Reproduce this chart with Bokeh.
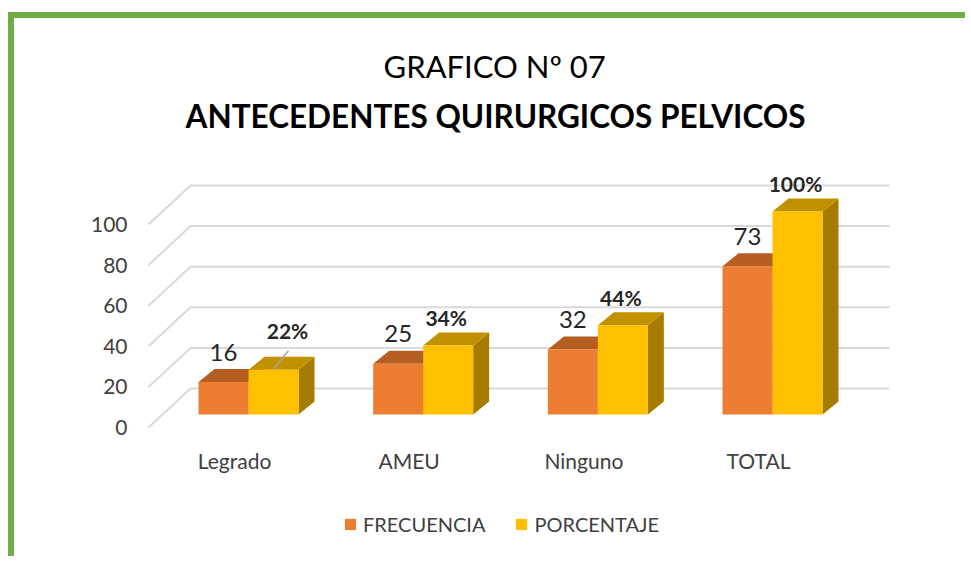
from bokeh.plotting import figure
from bokeh.models import (Range1d, LinearAxis, FixedTicker, Title, Legend, LegendItem,
                          ColumnDataSource)
from bokeh.core.properties import value
from bokeh.embed import file_html
from bokeh.resources import INLINE

# ---------------- data ----------------
categories = ["Legrado", "AMEU", "Ninguno", "TOTAL"]
frecuencia = [16, 25, 32, 73]
porcentaje = [22, 34, 44, 100]
porcentaje_labels = ["22%", "34%", "44%", "100%"]
y_ticks = [0, 20, 40, 60, 80, 100]
series_names = ["FRECUENCIA", "PORCENTAJE"]

# ---------------- layout constants (pixels) ----------------
W, H = 957, 544
OX, OY = 14, 18                    # page position of the canvas
FL, FR, FT, FB = 140, 960, 145, 556  # frame edges (page px)
PX_Y = 2.03                        # px per value unit
PX_X = 174.67                      # px per category
X0 = 248                           # page x of first bar-pair centre
Y0 = 414                           # page y of bar base
BAR_PX = 50
DEPTH_X, DEPTH_Y = 16, 13          # bar depth (px)
FRONT_DX, FRONT_DY = 14, 13        # front plane vs bar plane
BACK_DX, BACK_DY = 28, 26          # back wall vs bar plane
FLOOR_LEFT, WALL_RIGHT = 148, 889  # page x
CAT_LABEL_DY = 33                  # category labels below the front floor edge (px)

ORANGE, ORANGE_TOP = "#ED7D31", "#B65D21"
YELLOW, YELLOW_TOP, YELLOW_SIDE = "#FFC000", "#C29100", "#A57C00"
TEXT = "#404040"

def dx(px):
    return px / PX_X

def dy(px):
    return px / PX_Y

x_range = Range1d((FL - X0) / PX_X, (FR - X0) / PX_X)
y_range = Range1d((Y0 - FB) / PX_Y, (Y0 - FT) / PX_Y)

p = figure(width=W, height=H, x_range=x_range, y_range=y_range,
           output_backend="svg", toolbar_location=None,
           x_axis_location=None, y_axis_location=None,
           min_border_left=FL - OX, min_border_right=OX + W - FR,
           min_border_top=FT - OY, min_border_bottom=OY + H - FB)
p.styles = {"border-top": "6px solid #70AD47", "border-left": "6px solid #70AD47",
            "margin-top": "12px", "margin-left": "8px"}
p.xgrid.visible = False
p.ygrid.visible = False
p.outline_line_color = None
p.background_fill_color = "white"
p.border_fill_color = "white"

p.extra_y_ranges = {"front_y": Range1d((Y0 + FRONT_DY - FB) / PX_Y, (Y0 + FRONT_DY - FT) / PX_Y)}

# ---------------- 3D gridlines ----------------
gx0 = (FLOOR_LEFT - X0) / PX_X
gx1 = gx0 + dx(FRONT_DX + BACK_DX)
gx2 = (WALL_RIGHT - X0) / PX_X
grid_xs = [[gx0, gx1, gx2] for t in y_ticks]
grid_ys = [[t - dy(FRONT_DY), t + dy(BACK_DY), t + dy(BACK_DY)] for t in y_ticks]
p.multi_line(grid_xs, grid_ys, line_color="#d9d9d9", line_width=2)

# ---------------- bars ----------------
bw = dx(BAR_PX)
ddx, ddy = dx(DEPTH_X), dy(DEPTH_Y)

def faces(vals, s):
    lefts = [i - bw + s * bw for i in range(len(vals))]
    rights = [l + bw for l in lefts]
    tops_x = [[l, r, r + ddx, l + ddx] for l, r in zip(lefts, rights)]
    tops_y = [[v, v, v + ddy, v + ddy] for v in vals]
    side_x = [[r, r + ddx, r + ddx, r] for r in rights]
    side_y = [[0, ddy, v + ddy, v] for v in vals]
    return lefts, rights, tops_x, tops_y, side_x, side_y

renderers = []
for s, (vals, cf, ct, cs) in enumerate([(frecuencia, ORANGE, ORANGE_TOP, ORANGE_TOP),
                                        (porcentaje, YELLOW, YELLOW_TOP, YELLOW_SIDE)]):
    lefts, rights, tx, ty, sx, sy = faces(vals, s)
    p.patches(sx, sy, fill_color=cs, line_color=None)
    p.patches(tx, ty, fill_color=ct, line_color=None)
    src = ColumnDataSource(dict(left=lefts, right=rights, top=vals, bottom=[0] * len(vals)))
    r = p.quad(left="left", right="right", top="top", bottom="bottom", source=src,
               fill_color=cf, line_color=None)
    renderers.append(r)

# ---------------- data labels ----------------
fx = [i - bw / 2 for i in range(len(categories))]
p.text(x=fx, y=frecuencia, text=[str(v) for v in frecuencia], y_offset=-30,
       text_align="center", text_baseline="middle", text_font=value("Lato"),
       text_font_size="24px", text_color="#262626")

px_ = [i + bw / 2 for i in range(len(categories))]
lab_dx = [14, -2, -2, -2]
lab_dy = [-39, -28, -28, -28]
p.text(x=px_, y=porcentaje, text=porcentaje_labels, x_offset=lab_dx, y_offset=lab_dy,
       text_align="center", text_baseline="middle", text_font=value("Lato"),
       text_font_style="bold", text_font_size="21px", text_color="#262626")
# leader line for the displaced first label
p.segment(x0=[px_[0]], y0=[porcentaje[0] + dy(1)], x1=[px_[0] + dx(15)],
          y1=[porcentaje[0] + dy(19)], line_color="#a6a6a6", line_width=1.5)

# ---------------- category labels (front floor edge) ----------------
cat_x = [i - dx(FRONT_DX) for i in range(len(categories))]
p.text(x=cat_x, y=[-dy(FRONT_DY)] * len(categories), text=categories, y_offset=CAT_LABEL_DY,
       text_align="center", text_baseline="middle", text_font=value("Lato"),
       text_font_size="21px", text_color=TEXT)

# ---------------- value axis ----------------
yaxis = LinearAxis(y_range_name="front_y", ticker=FixedTicker(ticks=y_ticks))
yaxis.axis_line_color = None
yaxis.major_tick_line_color = None
yaxis.minor_tick_line_color = None
yaxis.major_tick_out = 0
yaxis.major_tick_in = 0
yaxis.major_label_standoff = 13
yaxis.major_label_text_font = "Lato"
yaxis.major_label_text_font_size = "21px"
yaxis.major_label_text_color = TEXT
p.add_layout(yaxis, "left")

# ---------------- titles ----------------
p.title.text = "GRAFICO Nº 07"
p.title.align = "left"
p.title.offset = 243
p.title.text_font = "Lato"
p.title.text_font_style = "normal"
p.title.text_font_size = "31px"
p.title.text_color = "black"
p.title.standoff = 0
t2 = Title(text="ANTECEDENTES QUIRURGICOS PELVICOS", align="left", offset=45,
           text_font="Lato", text_font_style="bold", text_font_size="31.5px",
           text_color="black", standoff=21)
p.add_layout(t2, "above")

# ---------------- legend ----------------
legend = Legend(items=[LegendItem(label=series_names[0], renderers=[renderers[0]]),
                       LegendItem(label=series_names[1], renderers=[renderers[1]])],
                orientation="horizontal", location=(203, FB - 536),
                glyph_width=14, glyph_height=14, label_standoff=6, spacing=29,
                padding=0, margin=0, border_line_color=None, background_fill_alpha=0,
                label_text_font="Lato", label_text_font_size="20px", label_text_color=TEXT)
p.add_layout(legend, "center")

open("out.html", "w").write(file_html(p, INLINE))
